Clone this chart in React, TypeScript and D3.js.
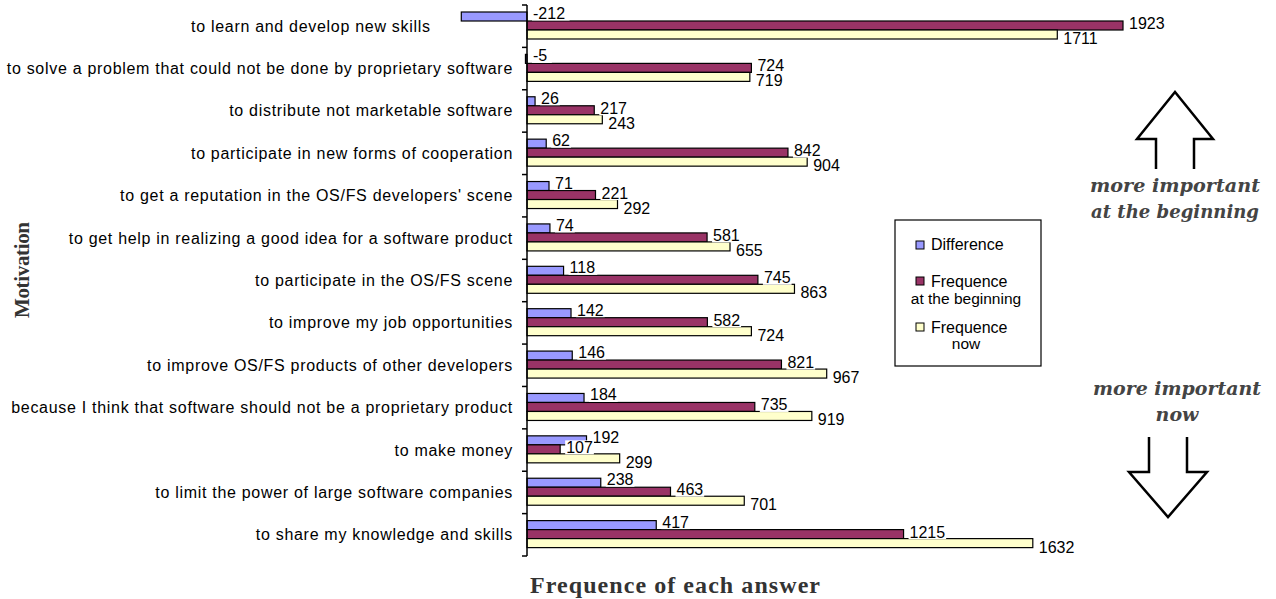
import React from "react";
import * as d3 from "d3";

const categories = [
  "to learn and develop new skills                ",
  "to solve a problem that could not be done by proprietary software",
  "to distribute not marketable software",
  "to participate in new forms of cooperation",
  "to get a reputation in the OS/FS developers' scene",
  "to get help in realizing a good idea for a software product",
  "to participate in the OS/FS scene",
  "to improve my job opportunities",
  "to improve OS/FS products of other developers",
  "because I think that software should not be a proprietary product",
  "to make money",
  "to limit the power of large software companies",
  "to share my knowledge and skills",
];
const difference = [-212, -5, 26, 62, 71, 74, 118, 142, 146, 184, 192, 238, 417];
const beginning = [1923, 724, 217, 842, 221, 581, 745, 582, 821, 735, 107, 463, 1215];
const nowFreq = [1711, 719, 243, 904, 292, 655, 863, 724, 967, 919, 299, 701, 1632];

const seriesKeys = ["diff", "begin", "now"];
const seriesColors = ["#9999FF", "#993366", "#FFFFCC"];
const seriesValues = [difference, beginning, nowFreq];
const labelDy = [-3, -2, 4];

const W = 1276;
const H = 599;

export default function App() {
  const x = d3.scaleLinear().domain([0, 1923]).range([527, 1123]);
  const y = d3.scaleBand<string>().domain(categories).range([5, 556]).padding(0);
  const inner = d3
    .scaleBand<string>()
    .domain(seriesKeys)
    .range([7, 34])
    .padding(0);
  const x0 = x(0);
  const bh = inner.bandwidth();
  const sans = "'Liberation Sans', Arial, sans-serif";
  const serif = "'Liberation Serif', 'Times New Roman', serif";
  const heavySerif = "'DejaVu Serif', 'Liberation Serif', serif";

  const upArrow = "M1156,169 L1156,139 L1137,139 L1175,92 L1213,139 L1194,139 L1194,169";
  const downArrow = "M1149,437 L1149,472 L1129,472 L1168,517 L1207,472 L1187,472 L1187,437";

  return (
    <svg
      width={W}
      height={H}
      style={{ position: "absolute", left: 0, top: 0, background: "#fff" }}
    >
      <rect x={0} y={0} width={W} height={H} fill="#fff" />
      {/* bars */}
      {categories.map((c, i) => (
        <g key={c}>
          {seriesKeys.map((k, s) => {
            const v = seriesValues[s][i];
            const by = (y(c) as number) + (inner(k) as number);
            const xa = Math.min(x(v), x0);
            const w = Math.abs(x(v) - x0);
            return (
              <rect
                key={k}
                x={xa}
                y={by}
                width={Math.max(w, 1)}
                height={bh}
                fill={seriesColors[s]}
                stroke="#000"
                strokeWidth={1.2}
              />
            );
          })}
        </g>
      ))}
      {/* value labels */}
      {categories.map((c, i) => (
        <g key={"l" + c}>
          {seriesKeys.map((k, s) => {
            const v = seriesValues[s][i];
            const by = (y(c) as number) + (inner(k) as number) + bh / 2;
            const lx = Math.max(x(v), x0) + 6;
            const txt = String(v);
            const tw = txt.length * 8.9;
            const cy = by + labelDy[s];
            return (
              <g key={k}>
                <rect x={lx - 1} y={cy - 7} width={tw + 2} height={14} fill="#fff" />
                <text
                  x={lx}
                  y={cy + 5.5}
                  fontFamily={sans}
                  fontSize={16}
                  fill="#000"
                >
                  {txt}
                </text>
              </g>
            );
          })}
        </g>
      ))}
      {/* axis */}
      <line x1={x0} x2={x0} y1={5} y2={556} stroke="#000" strokeWidth={1.5} />
      {d3.range(categories.length + 1).map((j) => {
        const ty = 5 + j * y.step();
        return <line key={j} x1={x0 - 5} x2={x0} y1={ty} y2={ty} stroke="#000" strokeWidth={1.5} />;
      })}
      {/* category labels */}
      {categories.map((c) => (
        <text
          key={"c" + c}
          x={513}
          y={(y(c) as number) + y.bandwidth() / 2 + 5.5}
          textAnchor="end"
          fontFamily={sans}
          fontSize={16}
          letterSpacing={0.7}
          fill="#000"
          style={{ whiteSpace: "pre" }}
        >
          {c}
        </text>
      ))}
      {/* axis titles */}
      <text
        x={675}
        y={593}
        textAnchor="middle"
        fontFamily={serif}
        fontWeight="bold"
        fontSize={24}
        fill="#333"
        textLength={290}
        lengthAdjust="spacing"
      >
        Frequence of each answer
      </text>
      <text
        transform="translate(29,270) rotate(-90)"
        textAnchor="middle"
        fontFamily={serif}
        fontWeight="bold"
        fontSize={21}
        fill="#333"
        textLength={96}
        lengthAdjust="spacing"
      >
        Motivation
      </text>
      {/* legend */}
      <rect x={895} y={220} width={146} height={146} fill="#fff" stroke="#000" strokeWidth={1.2} />
      <rect x={916} y={241} width={8} height={8} fill={seriesColors[0]} stroke="#000" strokeWidth={1} />
      <text x={931} y={250} fontFamily={sans} fontSize={16}>Difference</text>
      <rect x={916} y={277} width={8} height={8} fill={seriesColors[1]} stroke="#000" strokeWidth={1} />
      <text x={931} y={287} fontFamily={sans} fontSize={16}>Frequence</text>
      <text x={966} y={304} textAnchor="middle" fontFamily={sans} fontSize={15.5}>at the beginning</text>
      <rect x={916} y={323} width={8} height={8} fill={seriesColors[2]} stroke="#000" strokeWidth={1} />
      <text x={931} y={333} fontFamily={sans} fontSize={16}>Frequence</text>
      <text x={966} y={349} textAnchor="middle" fontFamily={sans} fontSize={15.5}>now</text>
      {/* arrows */}
      <path d={upArrow} fill="none" stroke="#000" strokeWidth={2.5} />
      <path d={downArrow} fill="none" stroke="#000" strokeWidth={2.5} />
      <g fontFamily={heavySerif} fontWeight="bold" fontStyle="italic" fontSize={19} fill="#444" textAnchor="middle">
        <text x={1175} y={192} textLength={170} lengthAdjust="spacingAndGlyphs">more important</text>
        <text x={1175} y={218} textLength={168} lengthAdjust="spacingAndGlyphs">at the beginning</text>
        <text x={1177} y={395} textLength={168} lengthAdjust="spacingAndGlyphs">more important</text>
        <text x={1177} y={421}>now</text>
      </g>
    </svg>
  );
}
